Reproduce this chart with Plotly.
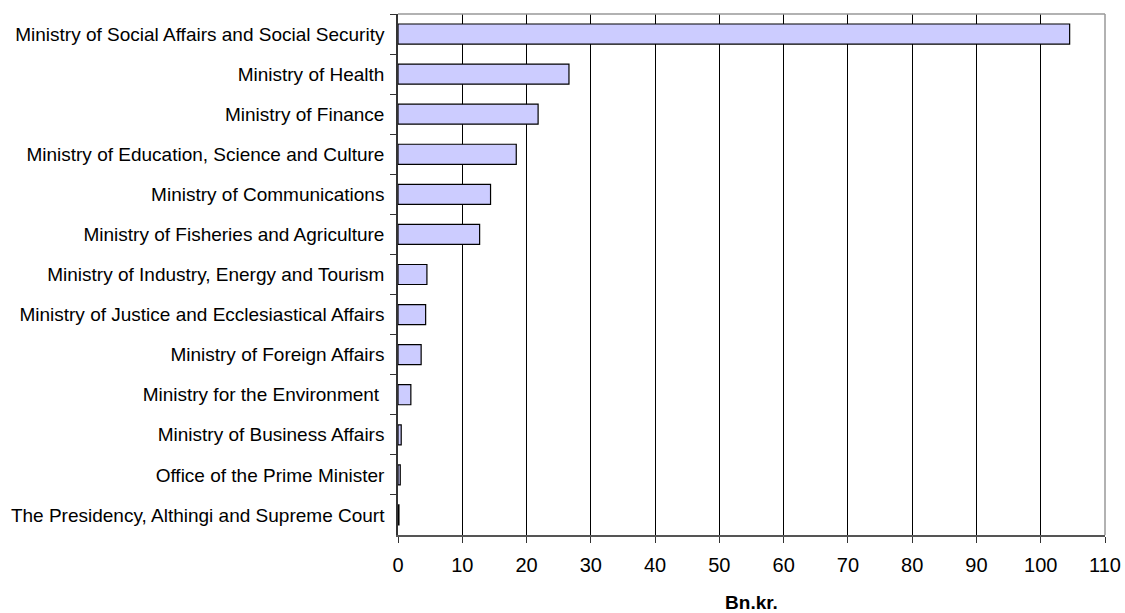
import plotly.graph_objects as go

categories = [
    "Ministry of Social Affairs and Social Security",
    "Ministry of Health",
    "Ministry of Finance",
    "Ministry of Education, Science and Culture",
    "Ministry of Communications",
    "Ministry of Fisheries and Agriculture",
    "Ministry of Industry, Energy and Tourism",
    "Ministry of Justice and Ecclesiastical Affairs",
    "Ministry of Foreign Affairs",
    "Ministry for the Environment ",
    "Ministry of Business Affairs",
    "Office of the Prime Minister",
    "The Presidency, Althingi and Supreme Court",
]
values = [104.5, 26.6, 21.8, 18.4, 14.4, 12.7, 4.5, 4.3, 3.6, 2.0, 0.5, 0.35, 0.15]
x_ticks = list(range(0, 111, 10))

fig = go.Figure(go.Bar(
    y=categories, x=values, orientation="h",
    width=0.5,
    marker=dict(color="#CCCCFF", line=dict(color="#000000", width=1.2)),
))

fig.update_layout(
    width=1125, height=613,
    margin=dict(l=398, r=20, t=14, b=78),
    paper_bgcolor="white", plot_bgcolor="white",
    font=dict(family="Liberation Sans, Arial, sans-serif", color="#000000"),
    showlegend=False,
    bargap=0.5,
)
fig.update_xaxes(
    range=[0, 110], tickvals=x_ticks, ticktext=[str(v) for v in x_ticks],
    showgrid=True, gridcolor="#000000", gridwidth=1,
    showline=True, linecolor="#555555", linewidth=2,
    ticks="outside", ticklen=6, tickcolor="#333333",
    tickfont=dict(size=20), zeroline=False, ticklabelstandoff=5,
    automargin=False,
    title=dict(text="<b>Bn.kr.</b>", font=dict(size=19), standoff=27),
)
fig.update_yaxes(
    categoryorder="array", categoryarray=categories, autorange="reversed",
    showgrid=False, showline=True, linecolor="#333333", linewidth=1.5,
    ticks="outside", ticklen=6, tickcolor="#333333", tickson="boundaries",
    tickfont=dict(size=19), ticklabelstandoff=8, automargin=False,
)
fig.add_shape(type="line", xref="paper", yref="paper", x0=0, x1=1, y0=1, y1=1,
              line=dict(color="#999999", width=1.5))
fig.add_shape(type="line", xref="paper", yref="paper", x0=1, x1=1, y0=0, y1=1,
              line=dict(color="#999999", width=1.5))

fig.write_html("out.html")
